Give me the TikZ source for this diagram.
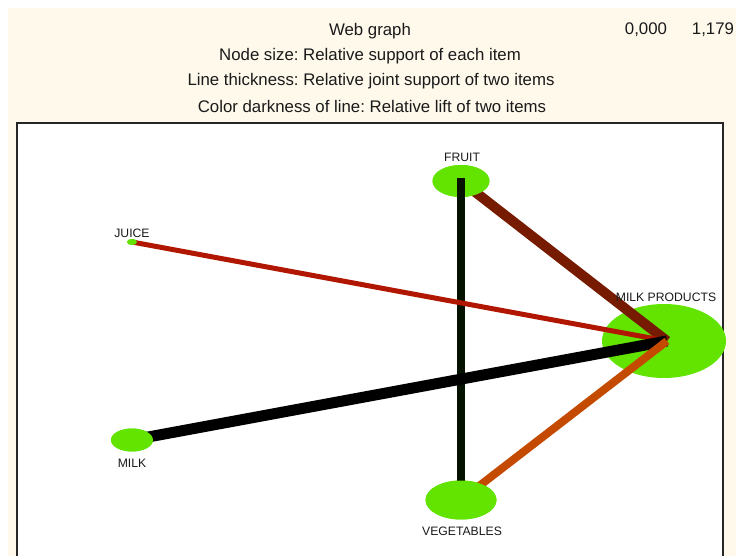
\documentclass[tikz,border=0pt]{standalone}
\usepackage{fontspec}
\setmainfont{Liberation Sans}
\usetikzlibrary{shapes.geometric}
\frenchspacing
\definecolor{cream}{HTML}{FFF9EC}
\definecolor{itemgreen}{HTML}{62E300}
\definecolor{liftdark}{HTML}{761A00}
\definecolor{liftred}{HTML}{B01600}
\definecolor{liftorange}{HTML}{C44A00}
\definecolor{liftblack}{HTML}{061200}
\definecolor{txt}{HTML}{1A1A1A}
\tikzset{
  item/.style={ellipse, fill=itemgreen, draw=none, inner sep=0pt},
  itemlabel/.style={font=\fontsize{12.2}{14}\selectfont, text=txt, inner sep=0pt},
  header/.style={font=\fontsize{16.8}{19}\selectfont, text=txt, inner sep=0pt},
  edge/.style={line cap=butt}
}
\begin{document}
\begin{tikzpicture}[x=1pt,y=-1pt]
\useasboundingbox (0,0) rectangle (736,556);
\fill[white] (0,0) rectangle (736,556);
\fill[cream] (8,8) rectangle (736,556);
% plot area
\fill[white] (17,123) rectangle (723,556);
\draw[line width=1.3pt, black!85] (17,560) -- (17,123) -- (723,123) -- (723,560);

% header texts
\node[header] (title) at (370,31) {Web graph};
\node[header] (lo) at (646,30) {0,000};
\node[header] (hi) at (713,30) {1,179};
\node[header] (l1) at (370,56) {Node size: Relative support of each item};
\node[header] (l2) at (371,81) {Line thickness: Relative joint support of two items};
\node[header] (l3) at (372,106) {Color darkness of line: Relative lift of two items};

% item nodes and connectors
\node[item, minimum width=124pt, minimum height=74pt] (mp) at (664,341) {};
\coordinate (hub) at (667,341);
\node[item, minimum width=57pt, minimum height=32pt] (fruit) at (461,181) {};
\node[item, minimum width=10pt, minimum height=6pt] (juice) at (132,242) {};
\node[item, minimum width=42pt, minimum height=23pt] (milk) at (132,440) {};
\node[item, minimum width=71pt, minimum height=39pt] (veg) at (461,500) {};

% fruit -> milk products (below fruit)
\draw[edge, line width=10pt, liftdark] (fruit.center) -- (hub);
\node[item, minimum width=57pt, minimum height=32pt] at (fruit.center) {};
% fruit -> vegetables
\draw[edge, line width=7.5pt, liftblack] ([yshift=3pt]fruit.center) -- (veg.center);
% the others into milk products
\draw[edge, line width=5pt, liftred] (juice.center) -- (hub);
\draw[edge, line width=11pt, black] (milk.center) -- (hub);
\draw[edge, line width=8pt, liftorange] (veg.center) -- (hub);
% small nodes on top
\node[item, minimum width=10pt, minimum height=6pt] at (juice.center) {};
\node[item, minimum width=42pt, minimum height=23pt] at (milk.center) {};
\node[item, minimum width=71pt, minimum height=39pt] at (veg.center) {};

% labels
\node[itemlabel] (tfruit) at (462,157) {FRUIT};
\node[itemlabel] (tjuice) at (132,233) {JUICE};
\node[itemlabel] (tmp) at (666,297) {MILK PRODUCTS};
\node[itemlabel] (tmilk) at (132,463) {MILK};
\node[itemlabel] (tveg) at (462,531) {VEGETABLES};
\end{tikzpicture}
\end{document}
